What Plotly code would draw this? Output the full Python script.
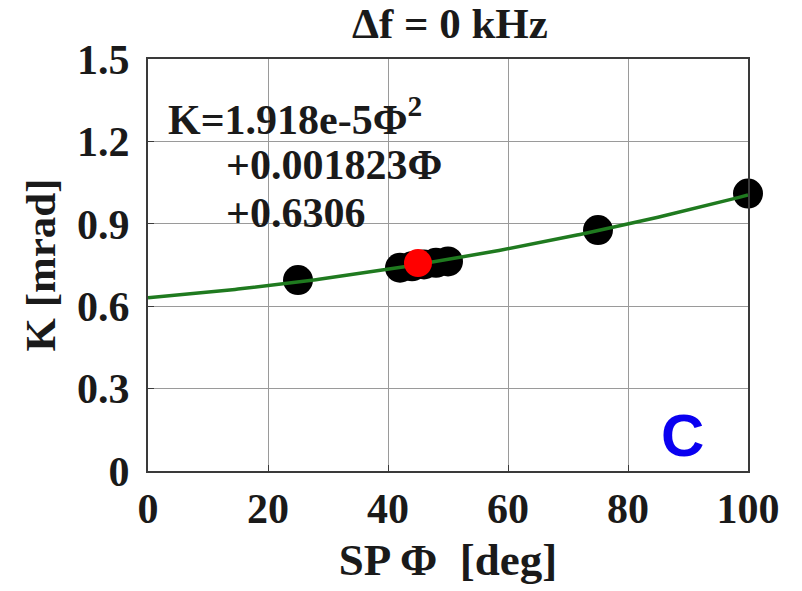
import numpy as np
import plotly.graph_objects as go

# Measured phase points (deg) and coupling K (mrad)
phi_meas = [25, 42, 44, 46, 48, 50, 75, 100]
k_meas = [0.695, 0.740, 0.745, 0.752, 0.758, 0.763, 0.877, 1.010]

# Highlighted operating point
phi_op = [45]
k_op = [0.757]

# Quadratic fit coefficients: K = a*phi^2 + b*phi + c
fit_a = 1.918e-5
fit_b = 0.001823
fit_c = 0.6306

x_ticks = [0, 20, 40, 60, 80, 100]
y_ticks = [0, 0.3, 0.6, 0.9, 1.2, 1.5]
y_tick_text = ["0", "0.3", "0.6", "0.9", "1.2", "1.5"]

phi_fit = np.linspace(0, 100, 201)
k_fit = fit_a * phi_fit**2 + fit_b * phi_fit + fit_c

serif = "Liberation Serif, Times New Roman, serif"
ink = "#1a1a1a"

fig = go.Figure()
fig.add_trace(go.Scatter(
    x=phi_meas, y=k_meas, mode="markers",
    marker=dict(color="black", size=30, line=dict(width=0)),
    showlegend=False, cliponaxis=False))
fig.add_trace(go.Scatter(
    x=phi_fit, y=k_fit, mode="lines",
    line=dict(color="#1f7a1f", width=3.5),
    showlegend=False))
fig.add_trace(go.Scatter(
    x=phi_op, y=k_op, mode="markers",
    marker=dict(color="#ff0000", size=28, line=dict(width=0)),
    showlegend=False))

axis_common = dict(
    showgrid=True, gridcolor="#9a9a9a", gridwidth=1.3,
    showline=True, linecolor="#3a3a3a", linewidth=2, mirror=True,
    ticks="inside", ticklen=6, tickcolor="#3a3a3a",
    zeroline=False,
    tickfont=dict(family=serif, size=42, color=ink, weight="bold"),
)

fig.update_xaxes(
    range=[0, 100], tickvals=x_ticks,
    title=dict(text="SP \u03a6  [deg]", font=dict(family=serif, size=45, color=ink, weight="bold"),
               standoff=12),
    **axis_common)
fig.update_yaxes(
    range=[0, 1.5], tickvals=y_ticks, ticktext=y_tick_text,
    ticklabelstandoff=8,
    title=dict(text="K [mrad]", font=dict(family=serif, size=43, color=ink, weight="bold"),
               standoff=8),
    **axis_common)

fig.update_layout(
    width=802, height=591,
    margin=dict(l=148, r=54, t=59, b=120),
    paper_bgcolor="white", plot_bgcolor="white",
    title=dict(text="\u0394f = 0 kHz", x=0.561, xanchor="center", y=0.961, yanchor="middle",
               font=dict(family=serif, size=43, color=ink, weight="bold")),
    font=dict(family=serif, color=ink),
)

# Fit equation
eq_font = dict(family=serif, size=42, color=ink, weight="bold")
fig.add_annotation(xref="x", yref="y", x=3.0, y=1.29, xanchor="left", yanchor="middle",
                   text="K=1.918e-5\u03a6<sup>2</sup>", showarrow=False, font=eq_font)
fig.add_annotation(xref="x", yref="y", x=12.6, y=1.115, xanchor="left", yanchor="middle",
                   text="+0.001823\u03a6", showarrow=False, font=eq_font)
fig.add_annotation(xref="x", yref="y", x=12.6, y=0.94, xanchor="left", yanchor="middle",
                   text="+0.6306", showarrow=False, font=eq_font)

# Panel letter
fig.add_annotation(xref="paper", yref="paper", x=0.89, y=0.085, xanchor="center", yanchor="middle",
                   text="C", showarrow=False,
                   font=dict(family="Liberation Sans, Arial, sans-serif", size=60, color="#0a00f0",
                             weight="bold"))

fig.write_html("out.html")
